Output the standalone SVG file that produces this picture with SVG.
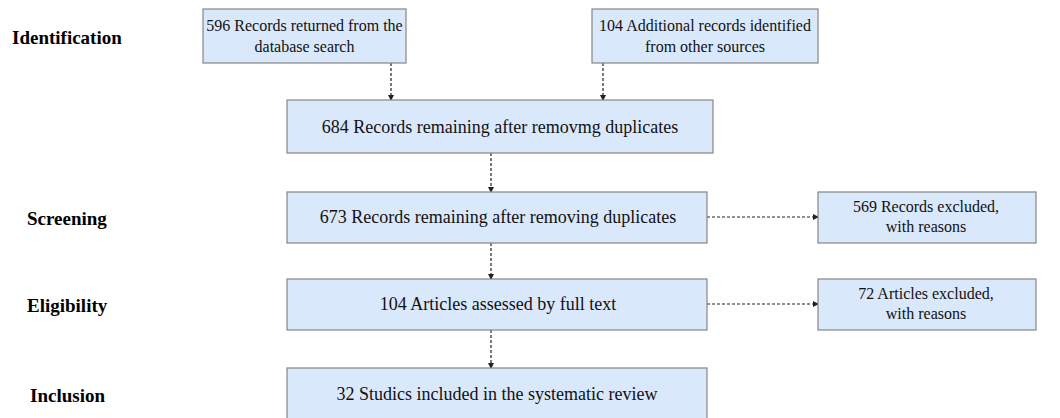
<svg xmlns="http://www.w3.org/2000/svg" width="1060" height="418" viewBox="0 0 1060 418">
<style>
.box{fill:#dae8fc;stroke:#858585;stroke-width:1.2}
.t{font-family:"Liberation Serif",serif;font-size:18px;fill:#111;text-anchor:middle}
.s{font-family:"Liberation Serif",serif;font-size:16px;fill:#111;text-anchor:middle}
.lab{font-family:"Liberation Serif",serif;font-size:19px;font-weight:bold;fill:#000}
.c{stroke:#222;stroke-width:1.2;stroke-dasharray:3,2;fill:none}
</style>
<defs>
<marker id="ah" markerWidth="6" markerHeight="6" refX="5" refY="3" orient="auto" markerUnits="userSpaceOnUse">
<path d="M0,0 L6,3 L0,6 z" fill="#222"/>
</marker>
</defs>
<g id="labels">
<text class="lab" x="12" y="44">Identification</text>
<text class="lab" x="27" y="225">Screening</text>
<text class="lab" x="27" y="312">Eligibility</text>
<text class="lab" x="30" y="402">Inclusion</text>
</g>
<g id="connectors">
<line class="c" x1="391" y1="63" x2="391" y2="100" marker-end="url(#ah)"/>
<line class="c" x1="603" y1="63" x2="603" y2="100" marker-end="url(#ah)"/>
<line class="c" x1="491" y1="153" x2="491" y2="192" marker-end="url(#ah)"/>
<line class="c" x1="707" y1="217" x2="818" y2="217" marker-end="url(#ah)"/>
<line class="c" x1="491" y1="243" x2="491" y2="279" marker-end="url(#ah)"/>
<line class="c" x1="707" y1="304" x2="818" y2="304" marker-end="url(#ah)"/>
<line class="c" x1="491" y1="330" x2="491" y2="368" marker-end="url(#ah)"/>
</g>
<g id="n1"><rect class="box" x="203" y="9" width="203" height="54"/>
<text class="s" x="304.5" y="31">596 Records returned from the</text>
<text class="s" x="304.5" y="52">database search</text></g>
<g id="n2"><rect class="box" x="592" y="9" width="226" height="54"/>
<text class="s" x="705" y="31">104 Additional records identified</text>
<text class="s" x="705" y="52">from other sources</text></g>
<g id="n3"><rect class="box" x="287" y="100" width="426" height="53"/>
<text class="t" x="500" y="133">684 Records remaining after removmg duplicates</text></g>
<g id="n4"><rect class="box" x="287" y="192" width="420" height="51"/>
<text class="t" x="498" y="223">673 Records remaining after removing duplicates</text></g>
<g id="n5"><rect class="box" x="818" y="192" width="218" height="51"/>
<text class="s" x="926" y="212">569 Records excluded,</text>
<text class="s" x="926" y="232">with reasons</text></g>
<g id="n6"><rect class="box" x="287" y="279" width="420" height="51"/>
<text class="t" x="498" y="310">104 Articles assessed by full text</text></g>
<g id="n7"><rect class="box" x="818" y="279" width="218" height="51"/>
<text class="s" x="926" y="299">72 Articles excluded,</text>
<text class="s" x="926" y="319">with reasons</text></g>
<g id="n8"><rect class="box" x="287" y="368" width="420" height="52"/>
<text class="t" x="497" y="400">32 Studics included in the systematic review</text></g>
</svg>
